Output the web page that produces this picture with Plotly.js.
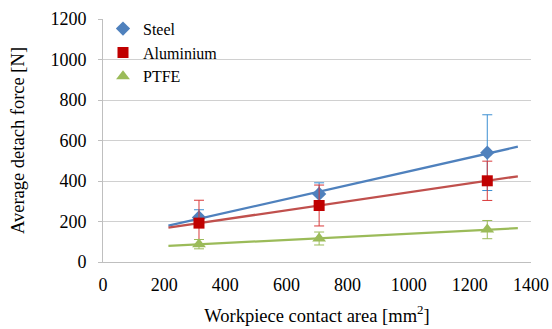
<!DOCTYPE html>
<html>
<head>
<meta charset="utf-8">
<script src="https://cdn.plot.ly/plotly-3.0.1.min.js"></script>
<style>html,body{margin:0;padding:0;background:#fff;}#chart{width:552px;height:329px;}</style>
</head>
<body>
<div id="chart"></div>
<script>
// Data
const contactArea = [314, 707, 1257];            // mm²
const steelForce = [220, 336, 540];              // N
const steelErr = [38, 55, 187];
const aluminiumForce = [192, 279, 401];
const aluminiumErr = [113, 101, 97];
const ptfeForce = [88, 116, 160];
const ptfeErr = [23, 32, 45];
const seriesNames = ['Steel', 'Aluminium', 'PTFE'];
const xTickVals = [0, 200, 400, 600, 800, 1000, 1200, 1400];
const yTickVals = [0, 200, 400, 600, 800, 1000, 1200];

// Linear trendline (least squares), forecast 100 units forward & backward
function trend(xs, ys, ext) {
  const n = xs.length;
  const mx = xs.reduce((a, b) => a + b, 0) / n;
  const my = ys.reduce((a, b) => a + b, 0) / n;
  let sxy = 0, sxx = 0;
  for (let i = 0; i < n; i++) { sxy += (xs[i] - mx) * (ys[i] - my); sxx += (xs[i] - mx) ** 2; }
  const m = sxy / sxx, b = my - m * mx;
  const x0 = Math.min(...xs) - ext, x1 = Math.max(...xs) + ext;
  return { x: [x0, x1], y: [m * x0 + b, m * x1 + b] };
}

const font = 'Liberation Serif';
const cols = {
  steel: { marker: '#4F81BD', line: '#4F81BD', err: '#3C8FD2' },
  alu: { marker: '#C00000', line: '#C0504D', err: '#D9393A' },
  ptfe: { marker: '#9BBB59', line: '#9BBB59', err: '#9BBB59' }
};

const tS = trend(contactArea, steelForce, 100);
const tA = trend(contactArea, aluminiumForce, 100);
const tP = trend(contactArea, ptfeForce, 100);

const traces = [
  { x: tS.x, y: tS.y, mode: 'lines', line: { color: cols.steel.line, width: 2.25 }, showlegend: false, hoverinfo: 'skip' },
  { x: tA.x, y: tA.y, mode: 'lines', line: { color: cols.alu.line, width: 2.25 }, showlegend: false, hoverinfo: 'skip' },
  { x: tP.x, y: tP.y, mode: 'lines', line: { color: cols.ptfe.line, width: 2.25 }, showlegend: false, hoverinfo: 'skip' },
  { x: contactArea, y: steelForce, name: seriesNames[0], mode: 'markers',
    marker: { symbol: 'diamond', size: 11, color: cols.steel.marker },
    error_y: { type: 'data', array: steelErr, visible: true, color: cols.steel.err, thickness: 1, width: 5 } },
  { x: contactArea, y: aluminiumForce, name: seriesNames[1], mode: 'markers',
    marker: { symbol: 'square', size: 11, color: cols.alu.marker },
    error_y: { type: 'data', array: aluminiumErr, visible: true, color: cols.alu.err, thickness: 1, width: 5 } },
  { x: contactArea, y: ptfeForce, name: seriesNames[2], mode: 'markers',
    marker: { symbol: 'triangle-up', size: 12, color: cols.ptfe.marker },
    error_y: { type: 'data', array: ptfeErr, visible: true, color: cols.ptfe.err, thickness: 1, width: 5 } }
];

const layout = {
  width: 552, height: 329,
  margin: { l: 103, r: 21, t: 17, b: 67 },
  paper_bgcolor: '#fff', plot_bgcolor: '#fff',
  font: { family: font, size: 18, color: '#000' },
  showlegend: true,
  legend: { x: 0, y: 1.03, xanchor: 'left', yanchor: 'top', bgcolor: 'rgba(0,0,0,0)',
            font: { family: font, size: 16, color: '#000' }, tracegroupgap: 0 },
  xaxis: {
    range: [0, 1400], tickvals: xTickVals, ticktext: xTickVals.map(String),
    showgrid: false, zeroline: false, showline: true, linecolor: '#BFBFBF', linewidth: 1,
    ticks: '', ticklabelstandoff: 6, tickfont: { family: font, size: 18, color: '#000' },
    title: { text: 'Workpiece contact area [mm<sup>2</sup>]', font: { family: font, size: 18.5, color: '#000' }, standoff: 15 }
  },
  yaxis: {
    range: [0, 1200], tickvals: yTickVals, ticktext: yTickVals.map(String),
    showgrid: true, gridcolor: '#D0D0D0', gridwidth: 1, zeroline: false,
    showline: true, linecolor: '#BFBFBF', linewidth: 1,
    ticks: 'outside', ticklen: 4, tickcolor: '#BFBFBF', ticklabelstandoff: 8,
    tickfont: { family: font, size: 18, color: '#000' },
    title: { text: 'Average detach force [N]', font: { family: font, size: 18.5, color: '#000' }, standoff: 20 }
  }
};

Plotly.newPlot('chart', traces, layout, { staticPlot: true, displayModeBar: false });
</script>
</body>
</html>
